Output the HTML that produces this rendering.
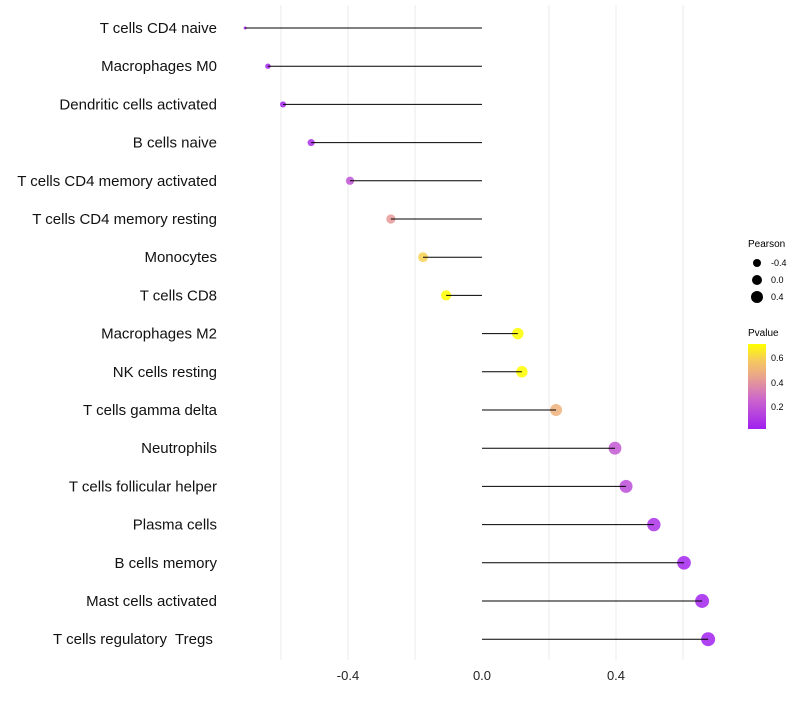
<!DOCTYPE html>
<html><head><meta charset="utf-8"><style>
body{margin:0;background:#fff;font-family:"Liberation Sans",sans-serif}
text{white-space:pre}
</style></head><body>
<svg id="chart" width="800" height="700" xmlns="http://www.w3.org/2000/svg">
<defs><linearGradient id="pg" x1="0" y1="1" x2="0" y2="0">
<stop offset="0" stop-color="#a020f0"/><stop offset="0.35" stop-color="#cc66cc"/><stop offset="0.6" stop-color="#e8a090"/><stop offset="0.8" stop-color="#f5c860"/><stop offset="1" stop-color="#ffff00"/></linearGradient></defs>
<g id="grid"></g><g id="marks"></g><g id="labels"></g>
<g font-size="9" fill="#000">
<text x="748" y="247" font-size="10">Pearson</text>
<circle cx="757" cy="263" r="4"/><text x="771" y="266">-0.4</text>
<circle cx="757" cy="280" r="5"/><text x="771" y="283">0.0</text>
<circle cx="757" cy="297" r="6"/><text x="771" y="300">0.4</text>
<text x="748" y="336" font-size="10">Pvalue</text>
<rect x="748" y="344" width="18" height="85" fill="url(#pg)"/>
<text x="771" y="361">0.6</text><text x="771" y="386">0.4</text><text x="771" y="410">0.2</text>
</g>
</svg>
<script>
const categories=["T cells CD4 naive","Macrophages M0","Dendritic cells activated","B cells naive","T cells CD4 memory activated","T cells CD4 memory resting","Monocytes","T cells CD8","Macrophages M2","NK cells resting","T cells gamma delta","Neutrophils","T cells follicular helper","Plasma cells","B cells memory","Mast cells activated","T cells regulatory  Tregs "];
const pearson=[-0.707,-0.639,-0.594,-0.510,-0.394,-0.272,-0.176,-0.107,0.107,0.119,0.221,0.397,0.430,0.513,0.603,0.657,0.675];
const pvalue=[0.03,0.04,0.05,0.08,0.2,0.42,0.6,0.74,0.74,0.72,0.5,0.22,0.18,0.09,0.05,0.04,0.035];
const xTicks=[-0.4,0,0.4];
const xTickLabels=["-0.4","0.0","0.4"];
const ns="http://www.w3.org/2000/svg";
const X=v=>482+335*v;
const Y=i=>28+i*38.2;
const R=v=>1.5+5.5*Math.sqrt(Math.max(0,(v+0.707)/1.382));
const stops=[[0,[160,32,240]],[0.35,[204,102,204]],[0.6,[232,160,144]],[0.8,[245,200,96]],[1,[255,255,0]]];
function col(p){let t=Math.max(0,Math.min(1,(p-0.029)/(0.714-0.029)));for(let k=1;k<stops.length;k++){if(t<=stops[k][0]){const a=stops[k-1],b=stops[k];const f=(t-a[0])/(b[0]-a[0]);return "rgb("+a[1].map((c,j)=>Math.round(c+(b[1][j]-c)*f)).join(",")+")";}}return "rgb(255,255,0)";}
function mk(tag,at,parent){const e=document.createElementNS(ns,tag);for(const k in at)e.setAttribute(k,at[k]);document.getElementById(parent).appendChild(e);return e;}
[-0.6,-0.4,-0.2,0.2,0.4,0.6].forEach(v=>{const l=mk("line",{x1:X(v),x2:X(v),y1:5,y2:660,stroke:"#ebebeb","stroke-width":1},"grid");

});
xTicks.forEach((v,i)=>{const t=mk("text",{x:X(v),y:680,"text-anchor":"middle","font-size":"13",fill:"#222"},"labels");t.textContent=xTickLabels[i];

});
categories.forEach((c,i)=>{
const v=pearson[i],y=Y(i);
const pt=mk("circle",{cx:X(v),cy:y,r:R(v),fill:col(pvalue[i]),"fill-opacity":0.85},"marks");


const ln=mk("line",{x1:X(v),x2:X(0),y1:y,y2:y,stroke:"#000","stroke-width":1},"marks");


const t=mk("text",{x:217,y:y+5,"text-anchor":"end","font-size":"15",fill:"#111"},"labels");t.textContent=c;


});
</script>
</body></html>
